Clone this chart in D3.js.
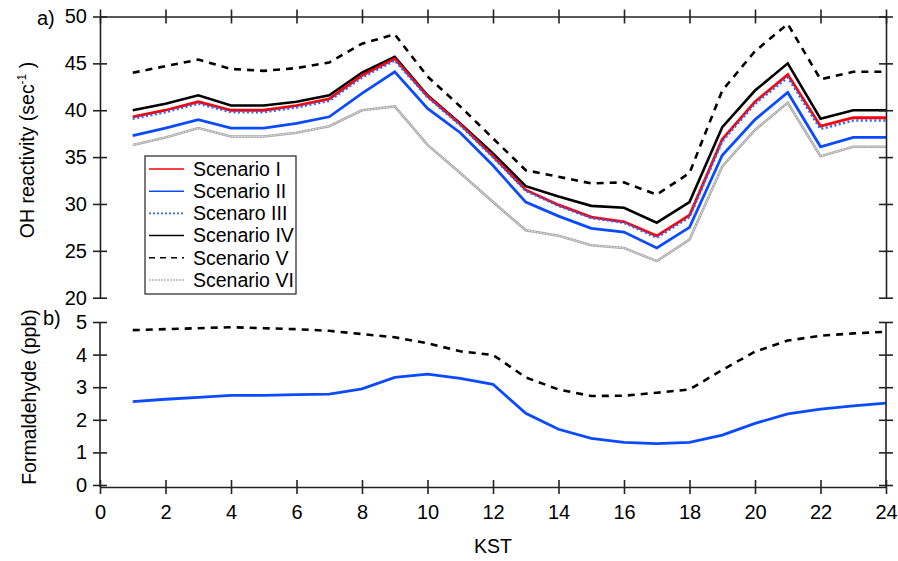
<!DOCTYPE html>
<html>
<head>
<meta charset="utf-8">
<script src="https://cdn.jsdelivr.net/npm/d3@7"></script>
<style>
  body { margin: 0; background: #fff; }
  svg text { font-family: "Liberation Sans", Arial, sans-serif; fill: #000; }
</style>
</head>
<body>
<div id="chart"></div>
<script>
// hours (KST)
const hours = d3.range(1, 25)

// panel a) OH reactivity (sec-1)
const scen1 = [39.3, 40.0, 40.9, 40.0, 40.0, 40.5, 41.2, 43.7, 45.5, 41.5, 38.5, 35.1, 31.5, 29.9, 28.6, 28.1, 26.6, 28.8, 36.9, 40.9, 43.8, 38.3, 39.2, 39.2]
const scen2 = [37.3, 38.1, 39.0, 38.1, 38.1, 38.6, 39.3, 41.8, 44.1, 40.2, 37.6, 34.1, 30.2, 28.7, 27.4, 27.0, 25.3, 27.5, 35.2, 39.0, 41.9, 36.1, 37.1, 37.1]
const scen3 = [39.1, 39.8, 40.7, 39.8, 39.8, 40.3, 41.0, 43.5, 45.3, 41.4, 38.4, 35.0, 31.4, 29.8, 28.5, 28.0, 26.4, 28.6, 36.7, 40.7, 43.5, 38.0, 38.9, 38.9]
const scen4 = [40.0, 40.7, 41.6, 40.5, 40.5, 40.9, 41.6, 44.0, 45.7, 41.6, 38.6, 35.4, 31.9, 30.8, 29.8, 29.6, 28.0, 30.2, 38.2, 42.1, 45.0, 39.1, 40.0, 40.0]
const scen5 = [44.0, 44.7, 45.4, 44.4, 44.2, 44.5, 45.1, 47.1, 48.1, 43.6, 40.4, 37.0, 33.6, 32.9, 32.2, 32.3, 31.0, 33.3, 42.1, 46.3, 49.2, 43.3, 44.1, 44.1]
const scen6 = [36.3, 37.1, 38.1, 37.2, 37.2, 37.6, 38.3, 40.0, 40.4, 36.3, 33.3, 30.2, 27.2, 26.6, 25.6, 25.3, 23.9, 26.2, 34.0, 37.9, 40.8, 35.1, 36.1, 36.1]

// panel b) formaldehyde (ppb)
const hchoHigh = [4.75, 4.78, 4.81, 4.84, 4.81, 4.78, 4.73, 4.63, 4.53, 4.35, 4.10, 3.99, 3.30, 2.93, 2.73, 2.74, 2.83, 2.93, 3.53, 4.09, 4.43, 4.58, 4.65, 4.70]
const hchoLow = [2.56, 2.63, 2.69, 2.75, 2.75, 2.77, 2.79, 2.95, 3.30, 3.40, 3.27, 3.09, 2.20, 1.71, 1.43, 1.31, 1.27, 1.31, 1.53, 1.89, 2.18, 2.33, 2.43, 2.51]

const legendNames = ["Scenario I", "Scenario II", "Scenaro III", "Scenario IV", "Scenario V", "Scenario VI"]
const xTicks = d3.range(0, 25, 2)
const yTicksA = [20, 25, 30, 35, 40, 45, 50]
const yTicksB = [0, 1, 2, 3, 4, 5]

const W = 898, H = 561
const svg = d3.select("#chart").append("svg").attr("width", W).attr("height", H)

const x = d3.scaleLinear().domain([0, 24]).range([100, 886])
const yA = d3.scaleLinear().domain([20, 50]).range([297.7, 16.5])
const yB = d3.scaleLinear().domain([0, 5]).range([485, 322])

const fs = "19.5px"
const tickFs = "20px"

// series styles
const styles = [
  {data: scen6, color: "#a8a8a8", width: 2.6, dash: null, gray: true},
  {data: scen5, color: "#000", width: 2.6, dash: "7,6"},
  {data: scen2, color: "#0a4bff", width: 2.8, dash: null},
  {data: scen4, color: "#000", width: 2.6, dash: null},
  {data: scen1, color: "#ff0000", width: 2.8, dash: null},
  {data: scen3, color: "#2e63ff", width: 2.6, dash: "2,2.5"}
]

const lineA = d3.line().x((d, i) => x(hours[i])).y(d => yA(d))

styles.forEach(s => {
  svg.append("path").datum(s.data)
    .attr("d", lineA)
    .attr("fill", "none")
    .attr("stroke", s.color)
    .attr("stroke-width", s.width)
    .attr("stroke-dasharray", s.dash)
  if (s.gray) {
    svg.append("path").datum(s.data)
      .attr("d", lineA)
      .attr("fill", "none")
      .attr("stroke", "#e4e4e4")
      .attr("stroke-width", 1)
      .attr("stroke-dasharray", "2,1")
  }
})

// panel b lines
const lineB = d3.line().x((d, i) => x(hours[i])).y(d => yB(d))
svg.append("path").datum(hchoHigh).attr("d", lineB)
  .attr("fill", "none").attr("stroke", "#000").attr("stroke-width", 2.6).attr("stroke-dasharray", "7,6")
svg.append("path").datum(hchoLow).attr("d", lineB)
  .attr("fill", "none").attr("stroke", "#0a4bff").attr("stroke-width", 2.8)

// axes helper: ticks that cross the axis line
function cross(g, dir) {
  g.selectAll(".tick line").each(function() {
    const l = d3.select(this)
    if (dir === "h") l.attr("x1", 7).attr("x2", -7)
    else l.attr("y1", 7).attr("y2", -7)
  })
  g.select(".domain").attr("stroke", "#222").attr("stroke-width", 1.6)
  g.selectAll(".tick line").attr("stroke", "#222").attr("stroke-width", 1.6)
  g.selectAll("text").style("font-size", tickFs).attr("fill", "#000")
}

// panel a axes
svg.append("g").attr("transform", "translate(100,0)")
  .call(d3.axisLeft(yA).tickValues(yTicksA).tickSize(7).tickPadding(6).tickSizeOuter(0))
  .call(g => cross(g, "h"))
svg.append("g").attr("transform", "translate(886,0)")
  .call(d3.axisRight(yA).tickValues(yTicksA).tickSize(7).tickFormat("").tickSizeOuter(0))
  .call(g => cross(g, "h"))
svg.append("g").attr("transform", "translate(0,16.5)")
  .call(d3.axisTop(x).tickValues(xTicks).tickSize(7).tickFormat("").tickSizeOuter(0))
  .call(g => cross(g, "v"))

// panel b axes
svg.append("g").attr("transform", "translate(100,0)")
  .call(d3.axisLeft(yB).tickValues(yTicksB).tickFormat(d3.format("d")).tickSize(7).tickPadding(6).tickSizeOuter(0))
  .call(g => cross(g, "h"))
  .call(g => g.select(".domain").attr("d", "M0,322V487"))
svg.append("g").attr("transform", "translate(886,0)")
  .call(d3.axisRight(yB).tickValues(yTicksB).tickSize(7).tickFormat("").tickSizeOuter(0))
  .call(g => cross(g, "h"))
  .call(g => g.select(".domain").attr("d", "M0,322V487"))
svg.append("g").attr("transform", "translate(0,487)")
  .call(d3.axisBottom(x).tickValues(xTicks).tickSize(7).tickPadding(11).tickSizeOuter(0))
  .call(g => cross(g, "v"))

// panel labels
svg.append("text").attr("x", 37).attr("y", 25).style("font-size", tickFs).text("a)")
svg.append("text").attr("x", 43).attr("y", 325).style("font-size", tickFs).text("b)")

// axis titles
const tA = svg.append("text")
  .attr("transform", "translate(34,150) rotate(-90)")
  .attr("text-anchor", "middle").style("font-size", fs)
tA.append("tspan").text("OH reactivity (sec")
tA.append("tspan").attr("dy", -8).style("font-size", "12px").text("-1")
tA.append("tspan").attr("dy", 8).text(" )")

svg.append("text")
  .attr("transform", "translate(36,397) rotate(-90)")
  .attr("text-anchor", "middle").style("font-size", fs)
  .text("Formaldehyde (ppb)")

svg.append("text").attr("x", 493).attr("y", 553).attr("text-anchor", "middle")
  .style("font-size", fs).text("KST")

// legend
const lg = svg.append("g")
lg.append("rect").attr("x", 145).attr("y", 156).attr("width", 151).attr("height", 138)
  .attr("fill", "#fff").attr("stroke", "#333").attr("stroke-width", 1.3)

const legendStyles = [
  {color: "#ff0000", dash: null, width: 1.5},
  {color: "#0a4bff", dash: null, width: 1.5},
  {color: "#2e63ff", dash: "2,2", width: 1.8},
  {color: "#000", dash: null, width: 1.5},
  {color: "#000", dash: "6,5", width: 1.5},
  {color: "#c4c4c4", dash: "2,1", width: 1.8}
]
legendNames.forEach((name, i) => {
  const cy = 169 + i * 22.2
  lg.append("line").attr("x1", 149).attr("x2", 184).attr("y1", cy).attr("y2", cy)
    .attr("stroke", legendStyles[i].color).attr("stroke-width", legendStyles[i].width)
    .attr("stroke-dasharray", legendStyles[i].dash)
  lg.append("text").attr("x", 193).attr("y", cy + 6.8).style("font-size", fs).text(name)
})
</script>
</body>
</html>
